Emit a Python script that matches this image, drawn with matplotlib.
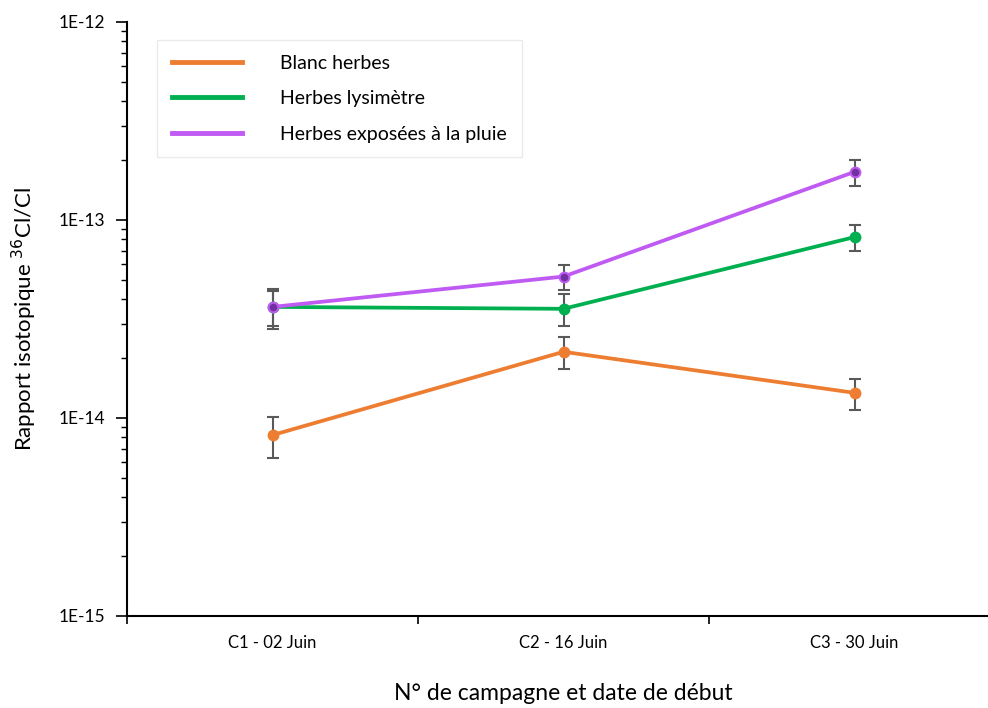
import numpy as np
import matplotlib.pyplot as plt
from matplotlib.ticker import LogLocator, FuncFormatter, FixedLocator, NullFormatter

# data
campagnes = ['C1 - 02 Juin', 'C2 - 16 Juin', 'C3 - 30 Juin']
blanc = [8.2e-15, 2.16e-14, 1.34e-14]
blanc_err = [1.9e-15, 4.0e-15, 2.4e-15]
lysimetre = [3.64e-14, 3.56e-14, 8.2e-14]
lysimetre_err = [7.3e-15, 6.5e-15, 1.25e-14]
pluie = [3.64e-14, 5.18e-14, 1.75e-13]
pluie_err = [8.2e-15, 7.5e-15, 2.7e-14]

plt.rcParams['font.family'] = ['Lato', 'DejaVu Sans']

fig = plt.figure(figsize=(9.88, 7.08), dpi=100)
ax = fig.add_axes([127 / 988, 1 - 616 / 708, 873 / 988, 594 / 708])

x = np.arange(len(campagnes))
series = [
    (blanc, blanc_err, '#ED7D31', '#ED7D31', 'Blanc herbes'),
    (lysimetre, lysimetre_err, '#00B050', '#00B050', 'Herbes lysimètre'),
    (pluie, pluie_err, '#BF5AF2', '#7030A0', 'Herbes exposées à la pluie'),
]
for vals, err, col, face, lab in series:
    ax.errorbar(x, vals, yerr=err, fmt='none', ecolor='#595959',
                elinewidth=1.5, capsize=4, capthick=1.5, zorder=2)
    ax.plot(x, vals, color=col, lw=2.7, marker='o', ms=7,
            mfc=face, mec=col, mew=1.5, label=lab, zorder=3)

ax.set_yscale('log')
ax.set_ylim(1e-15, 1e-12)
ax.yaxis.set_major_locator(FixedLocator([1e-15, 1e-14, 1e-13, 1e-12]))
ax.yaxis.set_minor_locator(LogLocator(base=10, subs=np.arange(2, 10), numticks=20))
ax.yaxis.set_major_formatter(FuncFormatter(lambda v, p: '1E%d' % round(np.log10(v))))
ax.yaxis.set_minor_formatter(NullFormatter())

ax.set_xlim(-0.5, 2.5)
ax.xaxis.set_major_locator(FixedLocator([-0.5, 0.5, 1.5, 2.5]))
ax.xaxis.set_major_formatter(NullFormatter())
ax.xaxis.set_minor_locator(FixedLocator(x))
ax.set_xticklabels(campagnes, minor=True, fontsize=12)
ax.tick_params(axis='x', which='minor', length=0, pad=14)
ax.tick_params(axis='x', which='major', length=6, width=1.2)
ax.tick_params(axis='y', which='major', length=8, width=1.2, labelsize=12.5, pad=8)
ax.tick_params(axis='y', which='minor', length=4, width=1.0)

for s in ['top', 'right']:
    ax.spines[s].set_visible(False)
for s in ['left', 'bottom']:
    ax.spines[s].set_linewidth(1.5)

ax.set_ylabel('Rapport isotopique $^{36}$Cl/Cl', fontsize=16, labelpad=14)
ax.set_xlabel('N° de campagne et date de début', fontsize=16.5, labelpad=23)

leg = ax.legend(loc='upper left', bbox_to_anchor=(157 / 988, 1 - 40 / 708),
                bbox_transform=fig.transFigure, fontsize=14, frameon=True,
                fancybox=False, edgecolor='#E6E6E6', handlelength=3.6,
                handletextpad=2.0, labelspacing=0.95, borderpad=0.75,
                borderaxespad=0)
leg.get_frame().set_linewidth(1.0)
for line in leg.get_lines():
    line.set_marker('')
    line.set_linewidth(3.5)

fig.savefig('out.png', dpi=100)
